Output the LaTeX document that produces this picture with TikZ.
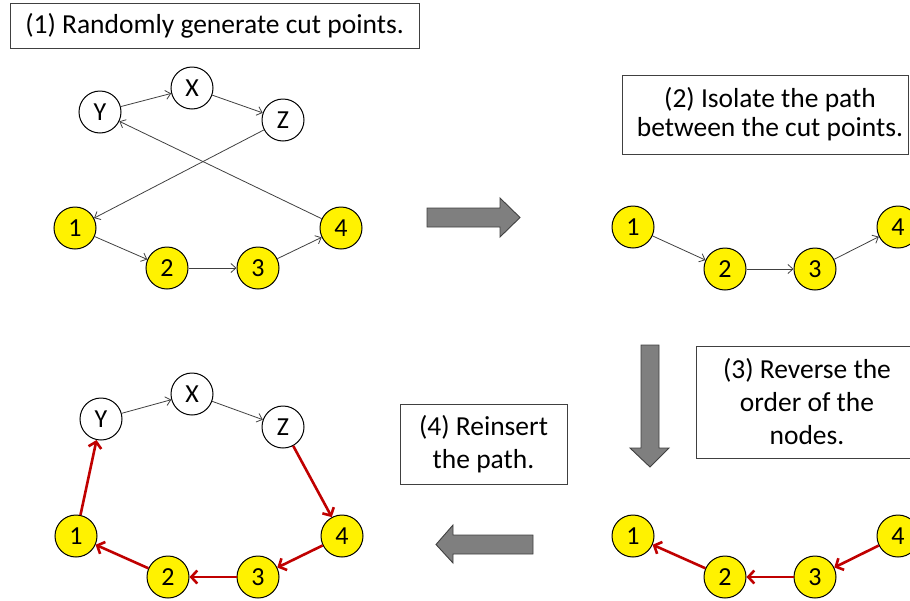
\documentclass[tikz,border=0pt]{standalone}
\usepackage{fontspec}
\setmainfont{Carlito}
\usetikzlibrary{arrows.meta}
\definecolor{pathred}{HTML}{C00000}
\definecolor{blockgray}{HTML}{7F7F7F}
\definecolor{edgegray}{HTML}{404040}
\begin{document}
\begin{tikzpicture}[x=1pt,y=-1pt,
  gnode/.style={circle, draw=black, line width=1pt, minimum size=42pt, inner sep=0pt,
    font=\fontsize{26}{30}\selectfont},
  ynode/.style={gnode, fill=yellow},
  wnode/.style={gnode, fill=white},
  link/.style={draw=edgegray, line width=0.8pt, -{Straight Barb[length=5pt,width=9pt]}},
  rlink/.style={draw=pathred, line width=2.6pt, -{Straight Barb[length=6pt,width=13pt]}},
  stepnote/.style={draw=edgegray, line width=0.9pt, fill=white, align=center, inner sep=0pt,
    font=\fontsize{27.5}{#1}\selectfont},
  block/.style={draw=edgegray, line width=0.9pt, fill=blockgray, line join=miter}
]
\useasboundingbox (0,0) rectangle (910,600);

% step captions
\node[stepnote=29, minimum width=409pt, minimum height=45pt] (cap1) at (214.5,25.5)
  {(1) Randomly generate cut points.};
\node[stepnote=29, minimum width=286pt, minimum height=79pt] (cap2) at (765,114.5)
  {\hspace*{10pt}(2) Isolate the path\\\hspace*{10pt}between the cut points.};
\node[stepnote=33, minimum width=222pt, minimum height=112pt] (cap3) at (807,402)
  {(3) Reverse the\\order of the\\nodes.};
\node[stepnote=33, minimum width=167pt, minimum height=80pt] (cap4) at (483.5,444)
  {(4) Reinsert\\the path.};

% block arrows between the stages
\draw[block] (427,208) -- (500,208) -- (500,198) -- (520,217.5) -- (500,237)
  -- (500,227) -- (427,227) -- cycle;
\draw[block] (641,345) -- (659,345) -- (659,448) -- (669,448) -- (650,467)
  -- (630,448) -- (641,448) -- cycle;
\draw[block] (533,535) -- (453,535) -- (453,525) -- (436,544.5) -- (453,563)
  -- (453,554) -- (533,554) -- cycle;

% stage 1: the full tour
\node[wnode] (ay) at (100,112) {Y};
\node[wnode] (ax) at (192,88) {X};
\node[wnode] (az) at (283,120) {Z};
\node[ynode] (a1) at (75,228) {1};
\node[ynode] (a2) at (167,268) {2};
\node[ynode] (a3) at (258,268) {3};
\node[ynode] (a4) at (341,228) {4};
\draw[link] (ay) -- (ax);
\draw[link] (ax) -- (az);
\draw[link] (az) -- (a1);
\draw[link] (a1) -- (a2);
\draw[link] (a2) -- (a3);
\draw[link] (a3) -- (a4);
\draw[link] (a4) -- (ay);

% stage 2: the isolated segment
\node[ynode] (b1) at (633,227) {1};
\node[ynode] (b2) at (725,269) {2};
\node[ynode] (b3) at (815,269) {3};
\node[ynode] (b4) at (898,227) {4};
\draw[link] (b1) -- (b2);
\draw[link] (b2) -- (b3);
\draw[link] (b3) -- (b4);

% stage 3: the reversed segment
\node[ynode] (c1) at (633,536) {1};
\node[ynode] (c2) at (725,577) {2};
\node[ynode] (c3) at (815,577) {3};
\node[ynode] (c4) at (898,536) {4};
\draw[rlink] (c4) -- (c3);
\draw[rlink] (c3) -- (c2);
\draw[rlink] (c2) -- (c1);

% stage 4: the segment put back
\node[wnode] (dy) at (101,419) {Y};
\node[wnode] (dx) at (192,394) {X};
\node[wnode] (dz) at (283,427) {Z};
\node[ynode] (d1) at (76,536) {1};
\node[ynode] (d2) at (168,577) {2};
\node[ynode] (d3) at (258,577) {3};
\node[ynode] (d4) at (342,536) {4};
\draw[link] (dy) -- (dx);
\draw[link] (dx) -- (dz);
\draw[rlink] (dz) -- (d4);
\draw[rlink] (d4) -- (d3);
\draw[rlink] (d3) -- (d2);
\draw[rlink] (d2) -- (d1);
\draw[rlink] (d1) -- (dy);
\end{tikzpicture}
\end{document}
